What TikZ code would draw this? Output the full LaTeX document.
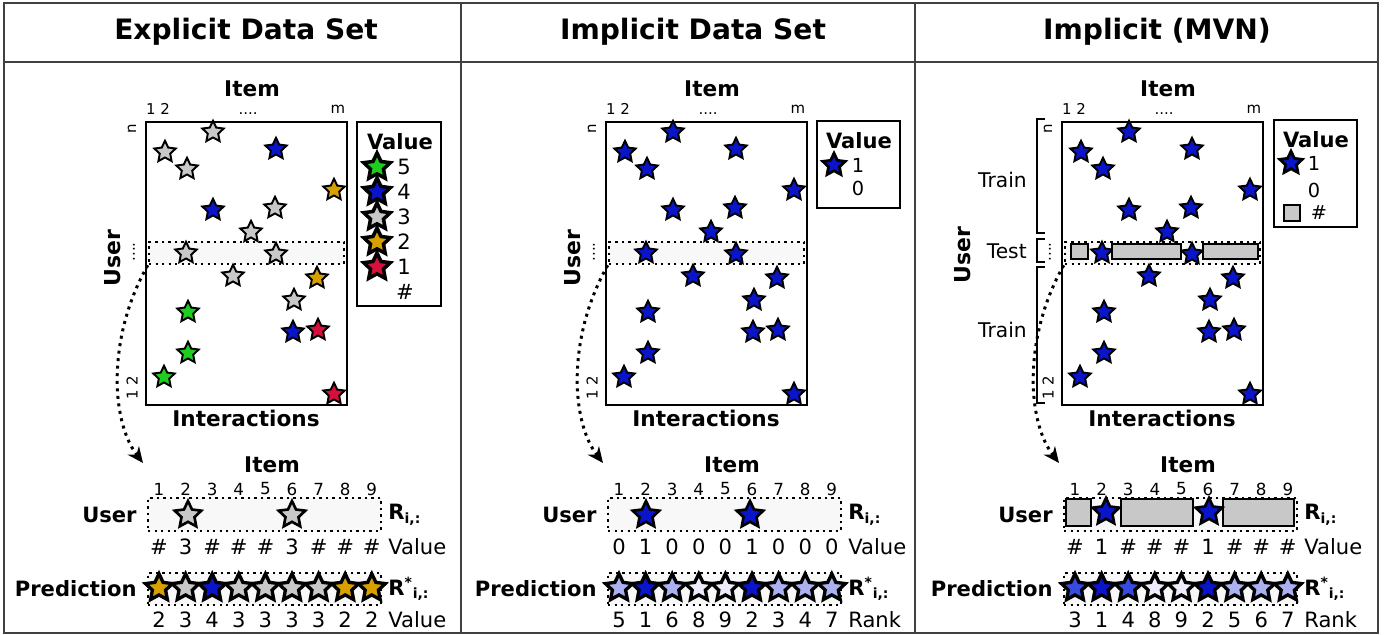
\documentclass[tikz,border=0pt]{standalone}
\usepackage{fontspec}
\setmainfont{DejaVu Sans}
\usetikzlibrary{shapes.geometric,arrows.meta}

\definecolor{stargreen}{RGB}{30,205,30}
\definecolor{starblue}{RGB}{10,20,200}
\definecolor{stargray}{RGB}{200,200,200}
\definecolor{starorange}{RGB}{215,160,0}
\definecolor{starred}{RGB}{215,15,60}
\definecolor{rankmid}{RGB}{55,75,225}
\definecolor{ranklow}{RGB}{170,176,240}
\definecolor{rankmin}{RGB}{236,236,250}
\definecolor{rowfill}{RGB}{248,248,248}
\definecolor{cellgray}{RGB}{200,200,200}

\begin{document}
\begin{tikzpicture}[x=0.02cm,y=-0.02cm,
    every node/.style={inner sep=0pt},
    panelline/.style={draw=black!75,line width=0.8pt},
    headtext/.style={font=\fontsize{16}{18}\selectfont\bfseries},
    axislabel/.style={font=\fontsize{12.3}{14}\selectfont\bfseries},
    userlabel/.style={font=\fontsize{12.5}{14}\selectfont\bfseries,rotate=90},
    idxtext/.style={font=\fontsize{8.5}{10}\selectfont},
    numtext/.style={font=\fontsize{9.5}{11}\selectfont},
    valtext/.style={font=\fontsize{12}{14}\selectfont},
    wordtext/.style={font=\fontsize{12}{14}\selectfont,anchor=west},
    sidelabel/.style={font=\fontsize{12}{14}\selectfont\bfseries,anchor=east},
    sidetext/.style={font=\fontsize{11.5}{13}\selectfont,anchor=east},
    rlabel/.style={font=\fontsize{12}{14}\selectfont\bfseries,anchor=west},
    legtitle/.style={font=\fontsize{12}{14}\selectfont\bfseries},
    legtext/.style={font=\fontsize{12}{14}\selectfont},
    smalltext/.style={font=\fontsize{11}{13}\selectfont},
    legbox/.style={draw,line width=0.8pt},
    rowbox/.style={draw,fill=rowfill,line width=1.4pt,dash pattern=on 1.4pt off 2.3pt},
    cellbox/.style={draw,fill=cellgray,line width=0.9pt},
    trainbracket/.style={line width=1.4pt},
    dotarrow/.style={line width=1.7pt,dash pattern=on 1.7pt off 2.6pt,-{Stealth[length=9pt,width=8pt]}},
    mstar/.style={star,star points=5,star point ratio=2.05,draw,line width=1.1pt,minimum size=0.45cm,fill=#1},
    ustar/.style={mstar=#1,minimum size=0.56cm,line width=1.5pt},
    pstar/.style={mstar=#1,minimum size=0.57cm,line width=1.9pt},
    lstar/.style={mstar=#1,minimum size=0.56cm,line width=2pt},
    sstar/.style={mstar=#1,minimum size=0.47cm,line width=1.6pt}]
\useasboundingbox (0,0) rectangle (1390,635);

% headers and column lines
\draw[panelline] (4,3) rectangle (1378,633);
\draw[panelline] (4,62) -- (1378,62);
\draw[panelline] (461,3) -- (461,633);
\draw[panelline] (915,3) -- (915,633);
\node[headtext] (hexp) at (246,32) {Explicit Data Set};
\node[headtext] (himp) at (693,32) {Implicit Data Set};
\node[headtext] (hmvn) at (1157,32) {Implicit (MVN)};

% parts shared by the three panels
\foreach \p/\dx/\rowword in {a/0/Value,b/460/Rank,c/916/Rank}{
\begin{scope}[shift={(\dx,0)}]
  \node[axislabel] (item\p) at (252,89) {Item};
  \node[idxtext] (cone\p) at (158,109) {1 2};
  \node[idxtext] (cdots\p) at (248,114) {....};
  \node[idxtext] (cm\p) at (338,109) {m};
  \node[idxtext,rotate=90] (rn\p) at (132,129) {n};
  \node[idxtext,rotate=90] (rdots\p) at (134,252) {....};
  \node[idxtext,rotate=90] (rone\p) at (132,388) {1 2};
  \node[rowbox,minimum width=3.9cm,minimum height=0.44cm] (row\p) at (246.5,253) {};
  \node[draw,line width=1.4pt,minimum width=4.02cm,minimum height=5.66cm] (mat\p) at (246.5,263.5) {};
  \node[axislabel] (inter\p) at (246,418) {Interactions};
  \node[axislabel] (bitem\p) at (272,465) {Item};
  \foreach \k in {1,...,9}
    \node[numtext] (n\p\k) at (159+26.6*\k-26.6,489) {\k};
  \node[rowbox,minimum width=4.66cm,minimum height=0.66cm] (urow\p) at (264.5,514.5) {};
  \node[rowbox,minimum width=4.66cm,minimum height=0.64cm] (prow\p) at (264.5,589) {};
  \node[sidelabel] (ulab\p) at (137,515) {User};
  \node[sidelabel] (plab\p) at (137,589) {Prediction};
  \node[rlabel] (r\p) at (388,515) {R\textsubscript{i,:}};
  \node[rlabel] (rs\p) at (388,589) {R\textsuperscript{*}\textsubscript{i,:}};
  \node[wordtext] (vword\p) at (388,547) {Value};
  \node[wordtext] (pword\p) at (388,620) {\rowword};
  \coordinate (tip\p) at (143,463);
  \draw[dotarrow] (row\p.south west) .. controls +(-40,70) and +(-33,-43) .. (tip\p);
\end{scope}
}

% matrix entries
\foreach \sx/\sy/\sc [count=\i] in {213/132/stargray,165/152/stargray,187/169/stargray,
    276/149/starblue,334/190/starorange,213/210/starblue,275/208/stargray,251/232/stargray,
    186/253/stargray,276/254/stargray,233/276/stargray,317/278/starorange,294/300/stargray,
    188/312/stargreen,293/332/starblue,318/330/starred,188/353/stargreen,164/377/stargreen,
    334/394/starred}{
  \node[mstar=\sc] (sa\i) at (\sx,\sy) {};
  \node[mstar=starblue] (sb\i) at (\sx+460,\sy) {};
  \node[mstar=starblue] (sc\i) at (\sx+916,\sy) {};
}

% explicit panel
\node[userlabel] (usera) at (113,258) {User};
\draw[legbox] (357,122) rectangle (441,306);
\node[legtitle] (valuea) at (400,142) {Value};
\foreach \lc/\lv [count=\k] in {stargreen/5,starblue/4,stargray/3,starorange/2,starred/1}{
  \node[lstar=\lc] (la\k) at (377,142+25*\k) {};
  \node[legtext] (lva\k) at (404,142+25*\k) {\lv};
}
\node[legtext] (lhasha) at (405,292) {\#};
\node[ustar=stargray] (ua2) at (188,515) {};
\node[ustar=stargray] (ua6) at (292,515) {};
\foreach \v [count=\k] in {\#,3,\#,\#,\#,3,\#,\#,\#}
  \node[valtext] (va\k) at (159+26.6*\k-26.6,547) {\v};
\foreach \pc/\pv [count=\k] in {starorange/2,stargray/3,starblue/4,stargray/3,stargray/3,
    stargray/3,stargray/3,starorange/2,starorange/2}{
  \node[pstar=\pc] (pa\k) at (159+26.6*\k-26.6,588) {};
  \node[valtext] (qa\k) at (159+26.6*\k-26.6,620) {\pv};
}

% implicit panel
\begin{scope}[shift={(460,0)}]
  \node[userlabel] (userb) at (113,258) {User};
  \draw[legbox] (357,121) rectangle (440,208);
  \node[legtitle] (valueb) at (399,141) {Value};
  \node[sstar=starblue] (lb1) at (374,165) {};
  \node[smalltext] (lvb1) at (398,165) {1};
  \node[smalltext] (lvb0) at (398,188) {0};
  \node[ustar=starblue] (ub2) at (186,515) {};
  \node[ustar=starblue] (ub6) at (290,515) {};
  \foreach \v [count=\k] in {0,1,0,0,0,1,0,0,0}
    \node[valtext] (vb\k) at (159+26.6*\k-26.6,547) {\v};
  \foreach \pc/\pv [count=\k] in {ranklow/5,starblue/1,ranklow/6,rankmin/8,rankmin/9,
      starblue/2,ranklow/3,ranklow/4,ranklow/7}{
    \node[pstar=\pc] (pb\k) at (159+26.6*\k-26.6,588) {};
    \node[valtext] (qb\k) at (159+26.6*\k-26.6,620) {\pv};
  }
\end{scope}

% MVN panel
\begin{scope}[shift={(916,0)}]
  \node[userlabel] (userc) at (47,255) {User};
  \draw[trainbracket] (129,119) -- (121,119) -- (121,233) -- (129,233);
  \draw[trainbracket] (129,239) -- (121,239) -- (121,262) -- (129,262);
  \draw[trainbracket] (129,267) -- (121,267) -- (121,403) -- (129,403);
  \node[sidetext] (traintop) at (111,180) {Train};
  \node[sidetext] (testc) at (111,251) {Test};
  \node[sidetext] (trainbot) at (111,330) {Train};
  \draw[cellbox] (155,244) rectangle (172,259);
  \draw[cellbox] (196,244) rectangle (265,259);
  \draw[cellbox] (287,244) rectangle (342,259);
  \draw[legbox] (358,120) rectangle (441,227);
  \node[legtitle] (valuec) at (400,140) {Value};
  \node[sstar=starblue] (lc1) at (375,163) {};
  \node[smalltext] (lvc1) at (398,163) {1};
  \node[smalltext] (lvc0) at (398,190) {0};
  \draw[cellbox] (368,205) rectangle (384,221);
  \node[smalltext] (lhashc) at (403,213) {\#};
  \draw[cellbox] (150,499) rectangle (175,526);
  \draw[cellbox] (205,499) rectangle (277,526);
  \draw[cellbox] (307,499) rectangle (378,526);
  \node[ustar=starblue] (uc2) at (190,512) {};
  \node[ustar=starblue] (uc6) at (293,512) {};
  \foreach \v [count=\k] in {\#,1,\#,\#,\#,1,\#,\#,\#}
    \node[valtext] (vc\k) at (159+26.6*\k-26.6,547) {\v};
  \foreach \pc/\pv [count=\k] in {rankmid/3,starblue/1,rankmid/4,rankmin/8,rankmin/9,
      starblue/2,ranklow/5,ranklow/6,ranklow/7}{
    \node[pstar=\pc] (pc\k) at (159+26.6*\k-26.6,588) {};
    \node[valtext] (qc\k) at (159+26.6*\k-26.6,620) {\pv};
  }
\end{scope}
\end{tikzpicture}
\end{document}
